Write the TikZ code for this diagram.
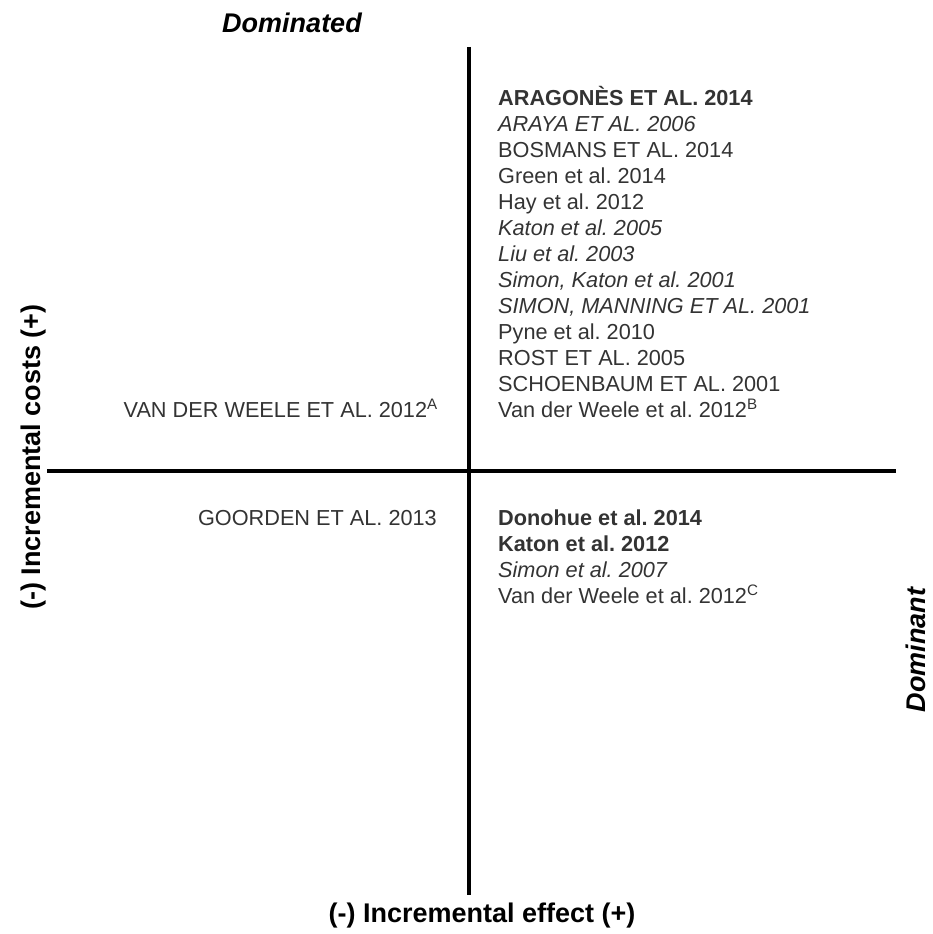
\documentclass[tikz,border=0pt]{standalone}
\usepackage{fontspec}
\setmainfont{Liberation Sans}
\usetikzlibrary{positioning}
\frenchspacing

\tikzset{
    entry/.style={anchor=base west, inner sep=0pt, text=black!80, font=\fontsize{21.7}{26}\selectfont},
    entryleft/.style={entry, anchor=base east},
    axislabel/.style={inner sep=0pt, font=\fontsize{27}{32}\selectfont\bfseries},
    quadlabel/.style={inner sep=0pt, font=\fontsize{27}{32}\selectfont\bfseries\itshape},
    axisline/.style={line width=4pt, black}
}

\begin{document}
\begin{tikzpicture}[x=1pt, y=-1pt]
    \useasboundingbox (0,0) rectangle (932,934);

    % Axes
    \coordinate (costTop) at (469,47);
    \coordinate (costBottom) at (469,895);
    \coordinate (effLeft) at (47,471);
    \coordinate (effRight) at (896,471);
    \draw[axisline] (costTop) -- (costBottom);
    \draw[axisline] (effLeft) -- (effRight);

    % Axis labels
    \node[axislabel, anchor=base] (effLabel) at (482,922) {(-) Incremental effect (+)};
    \node[axislabel, rotate=90, anchor=base] (costLabel) at (40,457) {(-) Incremental costs (+)};

    % Quadrant labels
    \node[quadlabel, anchor=base] (dominated) at (292,33) {Dominated};
    \node[quadlabel, rotate=90, anchor=base] (dominant) at (925,650) {Dominant};

    % Upper right quadrant (more costs, more effect)
    \foreach \fs/\txt [count=\i] in {
        \bfseries/ARAGONÈS ET AL. 2014,
        \itshape/ARAYA ET AL. 2006,
        \upshape/BOSMANS ET AL. 2014,
        \upshape/Green et al. 2014,
        \upshape/Hay et al. 2012,
        \itshape/Katon et al. 2005,
        \itshape/Liu et al. 2003,
        \itshape/{Simon, Katon et al. 2001},
        \itshape/{SIMON, MANNING ET AL. 2001},
        \upshape/Pyne et al. 2010,
        \upshape/ROST ET AL. 2005,
        \upshape/SCHOENBAUM ET AL. 2001,
        \upshape/Van der Weele et al. 2012\textsuperscript{B}} {
        \node[entry] (upR\i) at (498,{105+26*(\i-1)}) {\fs\txt};
    }

    % Lower right quadrant (less costs, more effect)
    \foreach \fs/\txt [count=\i] in {
        \bfseries/Donohue et al. 2014,
        \bfseries/Katon et al. 2012,
        \itshape/Simon et al. 2007,
        \upshape/Van der Weele et al. 2012\textsuperscript{C}} {
        \node[entry] (loR\i) at (498,{525+26*(\i-1)}) {\fs\txt};
    }

    % Left quadrants
    \node[entryleft] (upL1) at (438,417) {VAN DER WEELE ET AL. 2012\textsuperscript{A}};
    \node[entryleft] (loL1) at (437,525) {GOORDEN ET AL. 2013};

\end{tikzpicture}
\end{document}
